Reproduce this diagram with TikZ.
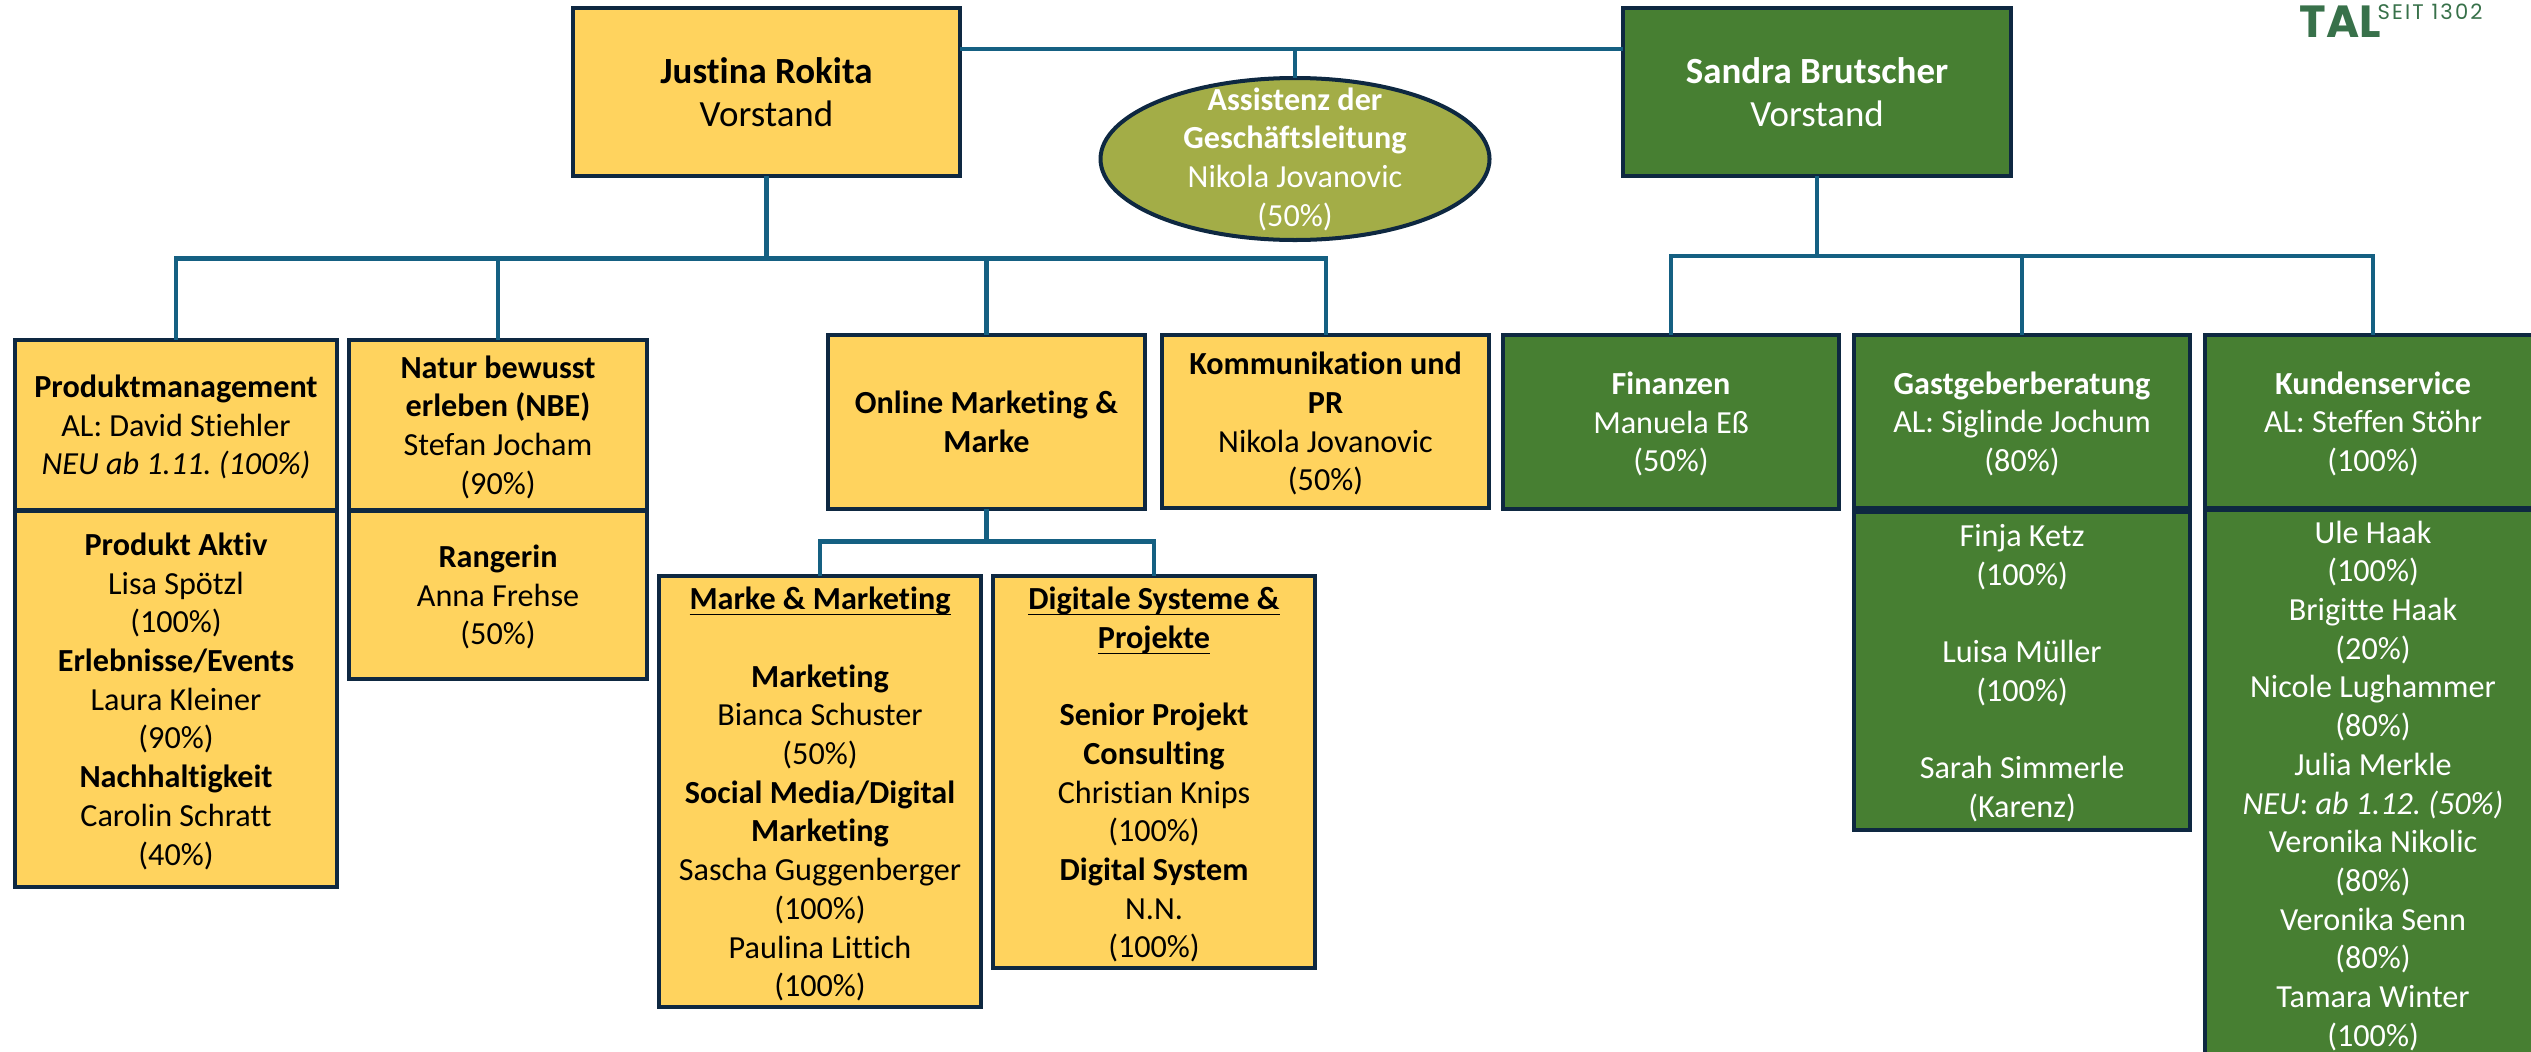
\documentclass[tikz,border=0pt]{standalone}
\usepackage{fontspec}
\usetikzlibrary{shapes.geometric}
\setmainfont{Carlito}[Ligatures=NoCommon]
\newfontfamily\logofont{Poppins}
\newfontfamily\logospaced[LetterSpace=10]{Poppins}
\definecolor{ygold}{HTML}{FFD35E}
\definecolor{dgreen}{HTML}{477F32}
\definecolor{olivefill}{HTML}{A3AD47}
\definecolor{edgedark}{HTML}{0E2841}
\definecolor{linkblue}{HTML}{156082}
\definecolor{logogreen}{HTML}{38714A}
\newcommand{\ulbold}[1]{\vphantom{(}\underline{\smash{\textbf{#1}}}}
\frenchspacing
\tikzset{
  wh/.style 2 args={minimum width=#1*0.01cm, minimum height=#2*0.01cm},
  txt/.style={font=\fontsize{9.15}{11}\selectfont, align=center, inner sep=0pt, text depth=-1.1pt},
  bigtxt/.style={font=\fontsize{10.5}{12.3}\selectfont, align=center, inner sep=0pt, text depth=-0.9pt},
  card/.style={draw=edgedark, line width=1.14pt, rectangle, outer sep=0pt, inner sep=0pt, align=center},
  ybox/.style={card, txt, fill=ygold, text=black},
  gbox/.style={card, txt, fill=dgreen, text=white},
  ybig/.style={card, bigtxt, fill=ygold, text=black},
  gbig/.style={card, bigtxt, fill=dgreen, text=white},
  ell/.style={ellipse, draw=edgedark, line width=1.14pt, fill=olivefill, inner sep=0pt, outer sep=0pt},
  conn/.style={draw=linkblue, line width=1.15pt, line join=miter},
}
\begin{document}
\begin{tikzpicture}[x=0.01cm,y=-0.01cm]
\useasboundingbox (0,0) rectangle (2531,1051);
\clip (0,0) rectangle (2531,1051);

% top level
\node[ybig, wh={387}{168}] (jr) at (766.5,92) {\textbf{Justina Rokita}\\Vorstand};
\node[gbig, wh={388}{168}] (sb) at (1817,92) {\textbf{Sandra Brutscher}\\Vorstand};
\node[ell, wh={389}{162}] (assist) at (1295,159) {};
\node[txt, text=white] (assistT) at (1295,157) {\textbf{Assistenz der}\\\textbf{Geschäftsleitung}\\Nikola Jovanovic\\(50\%)};

% left branch
\node[ybox, wh={322}{170}] (pm) at (176,425) {\textbf{Produktmanagement}\\AL: David Stiehler\\\textit{NEU ab 1.11. (100\%)}};
\node[ybox, wh={322}{376}] (pmlow) at (176,699) {\textbf{Produkt Aktiv}\\Lisa Spötzl\\(100\%)\\\textbf{Erlebnisse/Events}\\Laura Kleiner\\(90\%)\\\textbf{Nachhaltigkeit}\\Carolin Schratt\\(40\%)};
\node[ybox, wh={298}{170}] (nbe) at (498,425) {\textbf{Natur bewusst}\\\textbf{erleben (NBE)}\\Stefan Jocham\\(90\%)};
\node[ybox, wh={298}{168}] (nbelow) at (498,595) {\textbf{Rangerin}\\Anna Frehse\\(50\%)};
\node[ybox, wh={317}{174}] (om) at (986.5,422) {\textbf{Online Marketing \&}\\\textbf{Marke}};
\node[ybox, wh={327}{173}] (kp) at (1325.5,421.5) {\textbf{Kommunikation und}\\\textbf{PR}\\Nikola Jovanovic\\(50\%)};
\node[ybox, wh={322}{431}] (mm) at (820,791.5) {\ulbold{Marke \& Marketing}\\\mbox{}\\\textbf{Marketing}\\Bianca Schuster\\(50\%)\\\textbf{Social Media/Digital}\\\textbf{Marketing}\\Sascha Guggenberger\\(100\%)\\Paulina Littich\\(100\%)};
\node[ybox, wh={322}{392}] (ds) at (1154,772) {\ulbold{Digitale Systeme \&}\\\ulbold{Projekte}\\\mbox{}\\\textbf{Senior Projekt}\\\textbf{Consulting}\\Christian Knips\\(100\%)\\\textbf{Digital System}\\N.N.\\(100\%)};

% right branch
\node[gbox, wh={336}{174}] (fi) at (1671,422) {\textbf{Finanzen}\\Manuela Eß\\(50\%)};
\node[gbox, wh={336}{173}] (gg) at (2022,421.5) {\textbf{Gastgeberberatung}\\AL: Siglinde Jochum\\(80\%)};
\node[gbox, wh={336}{318}] (gglow) at (2022,671) {Finja Ketz\\(100\%)\\\mbox{}\\Luisa Müller\\(100\%)\\\mbox{}\\Sarah Simmerle\\(Karenz)};
\node[gbox, wh={336}{173}] (ks) at (2373,421.5) {\textbf{Kundenservice}\\AL: Steffen Stöhr\\(100\%)};
\node[gbox, wh={336}{547}] (kslow) at (2373,783.5) {Ule Haak\\(100\%)\\Brigitte Haak\\(20\%)\\Nicole Lughammer\\(80\%)\\Julia Merkle\\\textit{NEU}: \textit{ab 1.12. (50\%)}\\Veronika Nikolic\\(80\%)\\Veronika Senn\\(80\%)\\Tamara Winter\\(100\%)};

% logo
\node[font=\logofont\bfseries\fontsize{12.8}{14}\selectfont, text=logogreen, inner sep=0pt, anchor=base west] (logoA) at (2299,37) {TAL};
\node[font=\logospaced\fontsize{6}{7}\selectfont, text=logogreen, inner sep=0pt, anchor=base west] (logoB) at (2377,19) {SEIT 1302};

% connectors
\coordinate (topbus) at (1295,49);
\coordinate (busL) at (766.5,258.5);
\coordinate (busR) at (1817,256);
\coordinate (busM) at (986.5,541.5);
\draw[conn] (jr.east |- topbus) -- (sb.west |- topbus);
\draw[conn] (topbus) -- (assist.north);
\draw[conn] (jr.south) -- (busL);
\draw[conn] (pm.north) -- (pm.north |- busL) -- (kp.north |- busL) -- (kp.north);
\draw[conn] (nbe.north) -- (nbe.north |- busL);
\draw[conn] (om.north) -- (om.north |- busL);
\draw[conn] (sb.south) -- (busR);
\draw[conn] (fi.north) -- (fi.north |- busR) -- (ks.north |- busR) -- (ks.north);
\draw[conn] (gg.north) -- (gg.north |- busR);
\draw[conn] (om.south) -- (busM);
\draw[conn] (mm.north) -- (mm.north |- busM) -- (ds.north |- busM) -- (ds.north);
\end{tikzpicture}
\end{document}
